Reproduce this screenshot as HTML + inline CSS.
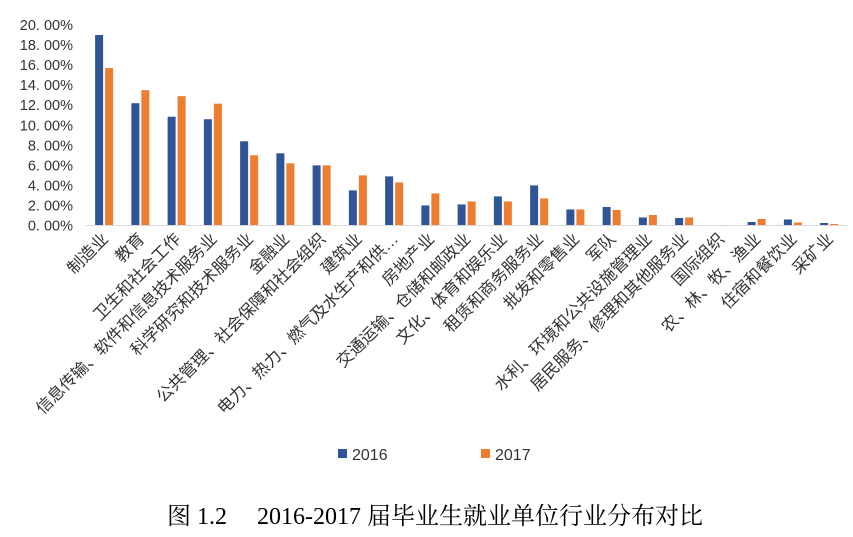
<!DOCTYPE html>
<html><head><meta charset="utf-8"><style>
body{margin:0;background:#fff;}
svg{display:block;font-family:"Liberation Sans","Noto Sans CJK SC",sans-serif;}
</style></head><body>
<svg id="chart" width="853" height="537" viewBox="0 0 853 537" xmlns="http://www.w3.org/2000/svg">
<g id="yaxis"></g>
<g id="bars"></g>
<g id="xlabels"></g>
<line x1="86" y1="225.5" x2="848" y2="225.5" stroke="#d9d9d9" stroke-width="1"/>
<g>
<g><rect x="338" y="449" width="9" height="9" fill="#2f5597"/><text x="352" y="460" font-size="16" fill="#333">2016</text></g>
<g><rect x="481" y="449" width="9" height="9" fill="#ed7d31"/><text x="495" y="460" font-size="16" fill="#333">2017</text></g>
</g>
<text x="435" y="524" text-anchor="middle" font-size="24" font-family="'Liberation Serif','Noto Serif CJK SC',serif" fill="#000">图 1.2　 2016-2017 届毕业生就业单位行业分布对比</text>
</svg>
<script>
const categories=["制造业","教育","卫生和社会工作","信息传输、软件和信息技术服务业","科学研究和技术服务业","金融业","公共管理、社会保障和社会组织","建筑业","电力、热力、燃气及水生产和供…","房地产业","交通运输、仓储和邮政业","文化、体育和娱乐业","租赁和商务服务业","批发和零售业","军队","水利、环境和公共设施管理业","居民服务、修理和其他服务业","国际组织","农、林、牧、渔业","住宿和餐饮业","采矿业"];
const values2016=[19.0,12.2,10.85,10.6,8.4,7.2,6.0,3.5,4.9,2.0,2.1,2.9,4.0,1.6,1.85,0.8,0.75,0,0.35,0.6,0.25];
const values2017=[15.7,13.5,12.9,12.15,7.0,6.2,6.0,5.0,4.3,3.2,2.4,2.4,2.7,1.6,1.55,1.05,0.8,0.05,0.65,0.3,0.15];
const yTicks=[0,2,4,6,8,10,12,14,16,18,20];
const NS="http://www.w3.org/2000/svg";
const y0=225.5,y20=25,x0=86,step=36.25;
function yScale(v){return y0-(v/20)*(y0-y20);}
function xCenter(i){return x0+step*(i+0.5);}
function mk(tag,attrs){const e=document.createElementNS(NS,tag);for(const k in attrs)e.setAttribute(k,attrs[k]);return e;}
const ya=document.getElementById('yaxis');
yTicks.forEach(t=>{
 const tx=mk('text',{x:73,y:yScale(t)+5,'text-anchor':'end','font-size':14.5,fill:'#333'});
 
 
 tx.textContent=t+'. 00%';
 ya.appendChild(tx);
});
const bg=document.getElementById('bars');
categories.forEach((c,i)=>{
 const cx=xCenter(i);
 const v1=values2016[i],v2=values2017[i];
 const r1=mk('rect',{x:cx-9,y:yScale(v1),width:8,height:y0-yScale(v1),fill:'#2f5597'});
 
 
 bg.appendChild(r1);
 const r2=mk('rect',{x:cx+1,y:yScale(v2),width:8,height:y0-yScale(v2),fill:'#ed7d31'});
 
 
 bg.appendChild(r2);
 const tx=mk('text',{x:cx+5,y:240,'text-anchor':'end','font-size':16.5,fill:'#333',transform:`rotate(-45 ${cx+5} 240)`});
 
 
 tx.textContent=c;
 document.getElementById('xlabels').appendChild(tx);
});
</script>
</body></html>
